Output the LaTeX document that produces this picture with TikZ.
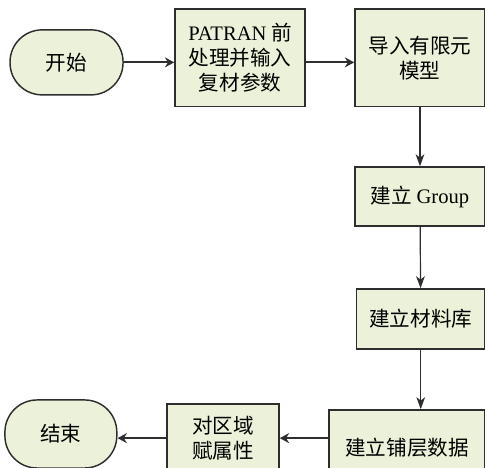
\documentclass[tikz,border=0pt]{standalone}
\usepackage{fontspec}
\setmainfont{Liberation Serif}
\newfontfamily\cjk{Noto Sans CJK SC}
\usetikzlibrary{arrows.meta}
\definecolor{boxfill}{HTML}{EBF2D9}
\definecolor{boxline}{HTML}{2E2E2E}
\tikzset{
  stepbox/.style={draw=boxline, line width=1.2pt, fill=boxfill, align=center,
    inner sep=0pt, font=\cjk\fontsize{15.5}{19}\selectfont},
  termbox/.style={stepbox, rounded corners=0.85cm, line width=1.1pt},
  flow/.style={-{Stealth[length=7pt,width=7.5pt]}, line width=1.4pt, draw=boxline},
  drop/.style={-{Stealth[length=9pt,width=6.5pt,inset=2.5pt]}, line width=0.9pt, draw=boxline}
}
\begin{document}
\begin{tikzpicture}
    \useasboundingbox (0,0) rectangle (12.83,-12.38);
    \node[termbox, minimum width=2.99cm, minimum height=1.72cm] (start) at (1.76, -1.65) {开始};
    \node[stepbox, minimum width=3.44cm, minimum height=2.57cm] (patran) at (6.35, -1.53) {{\rmfamily PATRAN} 前\\处理并输入\\复材参数};
    \node[stepbox, minimum width=3.44cm, minimum height=2.57cm] (import) at (11.11, -1.53) {导入有限元\\模型};
    \node[stepbox, minimum width=3.44cm, minimum height=1.56cm] (group) at (11.11, -5.20) {建立 {\rmfamily Group}};
    \node[stepbox, minimum width=3.40cm, minimum height=1.59cm] (material) at (11.13, -8.44) {建立材料库};
    \node[stepbox, minimum width=4.13cm, minimum height=2.01cm] (layup) at (10.77, -11.85) {建立铺层数据};
    \node[stepbox, minimum width=2.96cm, minimum height=1.80cm] (assign) at (5.90, -11.59) {对区域\\赋属性};
    \node[termbox, minimum width=2.96cm, minimum height=1.80cm] (finish) at (1.61, -11.48) {结束};
    \draw[flow] (start.east) -- (start.east -| patran.west);
    \draw[flow] (start.east -| patran.east) -- (start.east -| import.west);
    \draw[drop] (import) -- (group);
    \draw[drop] (group) -- (material);
    \draw[drop] (material.south) -- (material.south |- layup.north);
    \draw[flow] (assign.east -| layup.west) -- (assign.east);
    \draw[flow] (assign.west) -- (assign.west -| finish.east);
\end{tikzpicture}
\end{document}
